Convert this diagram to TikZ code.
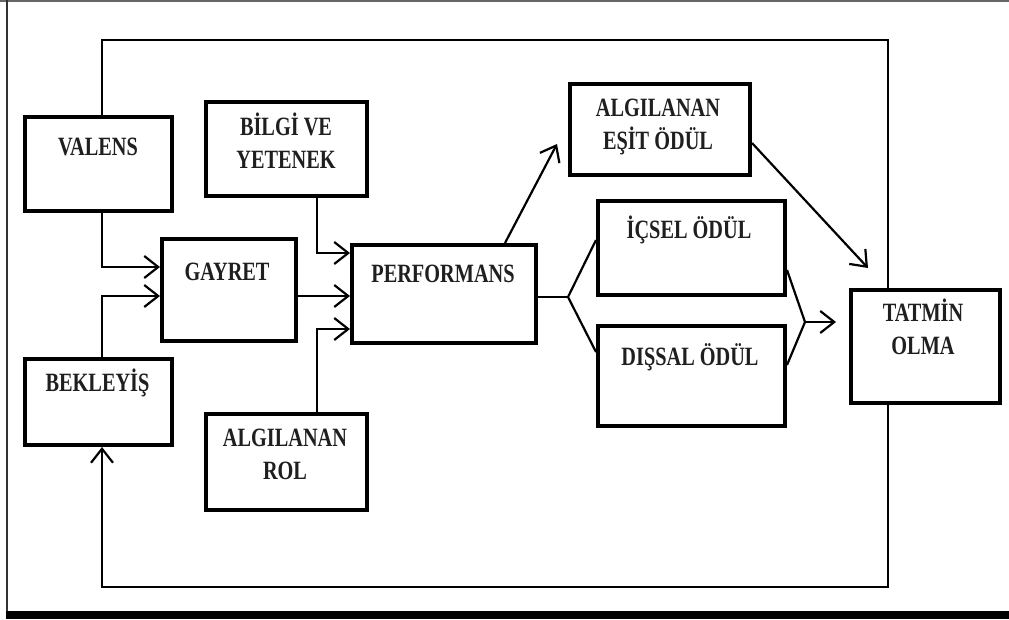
\documentclass[tikz,border=0pt]{standalone}
\usepackage{fontspec}
\setmainfont{Liberation Serif}
\usetikzlibrary{arrows.meta}
\newcommand\boxtext[1]{\scalebox{1}[1.3]{\fontsize{20.3}{25.5}\selectfont\bfseries\begin{tabular}{@{}c@{}}#1\end{tabular}}}
\begin{document}
\begin{tikzpicture}[x=1pt,y=-1pt,
  box/.style={draw=black,line width=4pt,inner sep=0pt},
  lbl/.style={inner sep=0pt,text=black!88},
  link/.style={draw=black,line width=2.2pt},
  arr/.style={link,-{Straight Barb[length=14pt,width=22pt]}}]
\useasboundingbox (0,0) rectangle (1009,619);
\fill[white] (0,0) rectangle (1009,619);
% page frame
\draw[black!60,line width=1.5pt] (0,0.75) -- (1009,0.75);
\draw[black!80,line width=2pt] (7,0) -- (7,612);
\fill[black] (6,611) rectangle (1009,619);

% boxes
\node[box,minimum width=147pt,minimum height=94pt] (valens)   at (98.5,164)  {};
\node[box,minimum width=161pt,minimum height=94pt] (bilgi)    at (286.5,149) {};
\node[box,minimum width=134pt,minimum height=102pt] (gayret)  at (229,290)   {};
\node[box,minimum width=184pt,minimum height=98pt] (perf)     at (444,294)   {};
\node[box,minimum width=180pt,minimum height=91pt] (esit)     at (660,129.5) {};
\node[box,minimum width=187pt,minimum height=94pt] (icsel)    at (691.5,248) {};
\node[box,minimum width=187pt,minimum height=100pt] (dissal)  at (691.5,376) {};
\node[box,minimum width=149pt,minimum height=113pt] (tatmin)  at (925.5,346.5) {};
\node[box,minimum width=147pt,minimum height=86pt] (bekleyis) at (98.5,402)  {};
\node[box,minimum width=161pt,minimum height=96pt] (rol)      at (286.5,462) {};

% box texts
\node[lbl] (valens-t)   at (98,149)   {\boxtext{VALENS}};
\node[lbl] (bilgi-t)    at (286,145.5) {\boxtext{BİLGİ VE\\YETENEK}};
\node[lbl] (gayret-t)   at (227,274)  {\boxtext{GAYRET}};
\node[lbl] (perf-t)     at (443,276)  {\boxtext{PERFORMANS}};
\node[lbl] (esit-t)     at (658,126)  {\boxtext{ALGILANAN\\EŞİT ÖDÜL}};
\node[lbl] (icsel-t)    at (689,232)  {\boxtext{İÇSEL ÖDÜL}};
\node[lbl] (dissal-t)   at (690,359)  {\boxtext{DIŞSAL ÖDÜL}};
\node[lbl] (tatmin-t)   at (923,331.5) {\boxtext{TATMİN\\OLMA}};
\node[lbl] (bekleyis-t) at (97.5,385) {\boxtext{BEKLEYİŞ}};
\node[lbl] (rol-t)      at (285,456.5) {\boxtext{ALGILANAN\\ROL}};

% routing coordinates
\coordinate (lx) at (102,40);
\coordinate (rx) at (888,587);
\coordinate (bx) at (317,0);
\coordinate (g1) at (0,267);
\coordinate (g2) at (0,296);
\coordinate (p1) at (0,253);
\coordinate (p2) at (0,296);
\coordinate (p3) at (0,329);
\coordinate (px) at (505,0);
\coordinate (et) at (557,144);
\coordinate (fork) at (568,297);
\coordinate (iy) at (0,240);
\coordinate (dy) at (0,352);
\coordinate (iy2) at (0,270);
\coordinate (dy2) at (0,365);
\coordinate (merge) at (805,322);
\coordinate (mt) at (836,322);
\coordinate (ey) at (0,143);
\coordinate (ht) at (868,268);

% feedback loop
\draw[link] (valens.north -| lx) |- (rx |- lx) -- (tatmin.north -| rx);
\draw[arr] (tatmin.south -| rx) -- (rx) -| (bekleyis.south -| lx);

% inputs
\draw[arr] (valens.south -| lx) |- (gayret.west |- g1);
\draw[arr] (bekleyis.north -| lx) |- (gayret.west |- g2);
\draw[arr] (bilgi.south -| bx) |- (perf.west |- p1);
\draw[arr] (gayret.east |- p2) -- (perf.west |- p2);
\draw[arr] (rol.north -| bx) |- (perf.west |- p3);

% rewards
\draw[arr] (perf.north -| px) -- (et);
\draw[link] (perf.east |- fork) -- (fork);
\draw[link] (icsel.west |- iy) -- (fork) -- (dissal.west |- dy);
\draw[link] (icsel.east |- iy2) -- (merge) -- (dissal.east |- dy2);
\draw[arr] (merge) -- (mt);
\draw[arr] (esit.east |- ey) -- (ht);
\end{tikzpicture}
\end{document}
